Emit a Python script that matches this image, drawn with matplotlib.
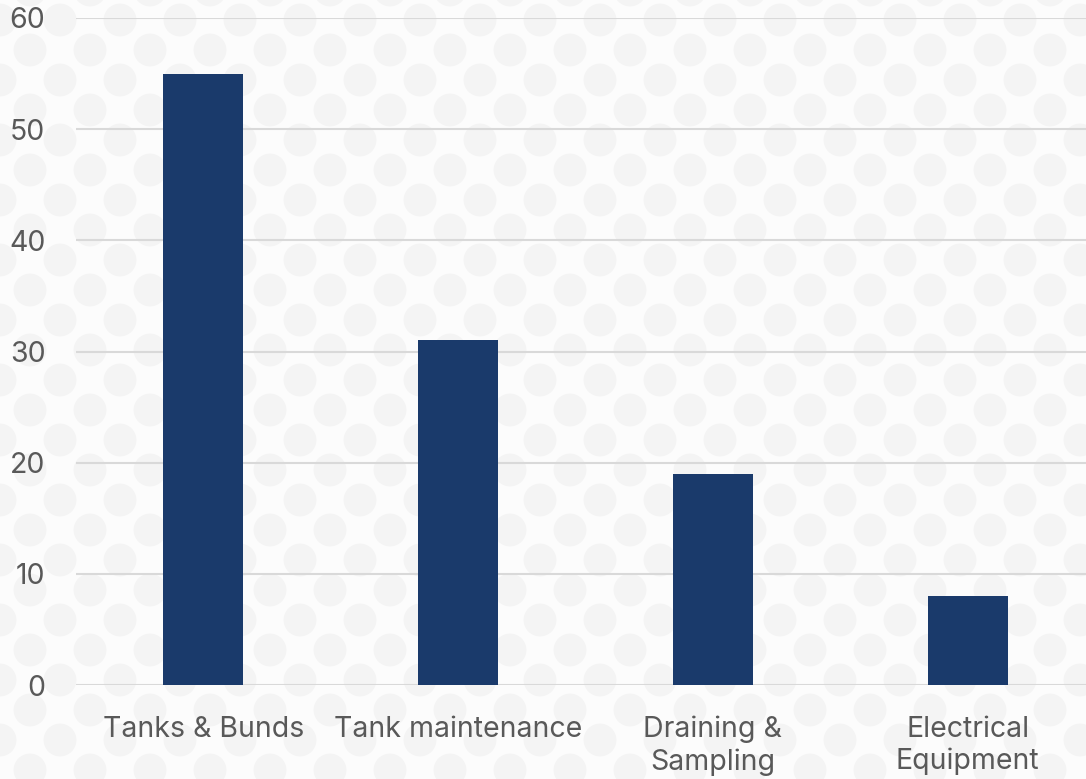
import matplotlib
matplotlib.use("Agg")
import matplotlib.pyplot as plt
import numpy as np

categories = ["Tanks & Bunds", "Tank maintenance", "Draining &\nSampling", "Electrical\nEquipment"]
counts = [55, 31, 19, 8]
y_ticks = [0, 10, 20, 30, 40, 50, 60]

bar_color = "#1a3a6b"
text_color = "#595959"
grid_color = "#d9d9d9"

plt.rcParams["font.family"] = ["Inter", "DejaVu Sans"]

fig = plt.figure(figsize=(10.86, 7.79), dpi=100)
fig.patch.set_facecolor("#fcfcfc")

# faint dotted background pattern
bg = fig.add_axes([0, 0, 1, 1], zorder=-1)
bg.set_xlim(0, 1086)
bg.set_ylim(779, 0)
bg.axis("off")
xs, ys = [], []
for r, yy in enumerate(np.arange(-10, 800, 30)):
    off = 30 if r % 2 else 0
    for xx in np.arange(-30 + off, 1120, 60):
        xs.append(xx)
        ys.append(yy)
bg.scatter(xs, ys, s=560, color="#f4f4f4", edgecolors="none")

ax = fig.add_axes([76 / 1086, 1 - 685 / 779, (1095 - 76) / 1086, (685 - 18) / 779])
ax.patch.set_alpha(0)
x = np.arange(len(categories))
ax.bar(x, counts, width=0.315, color=bar_color, zorder=3)

ax.set_xlim(-0.5, len(categories) - 0.5)
ax.set_ylim(0, 60)
ax.set_yticks(y_ticks)
ax.set_xticks(x)
ax.set_xticklabels(categories, linespacing=1.25)
ax.yaxis.grid(True, color=grid_color, linewidth=1.5, zorder=0)
ax.tick_params(axis="both", length=0, labelsize=20.5, colors=text_color)
ax.tick_params(axis="y", pad=22)
ax.tick_params(axis="x", pad=22)
for s in ax.spines.values():
    s.set_visible(False)

fig.savefig("out.png", dpi=100, facecolor=fig.get_facecolor())
